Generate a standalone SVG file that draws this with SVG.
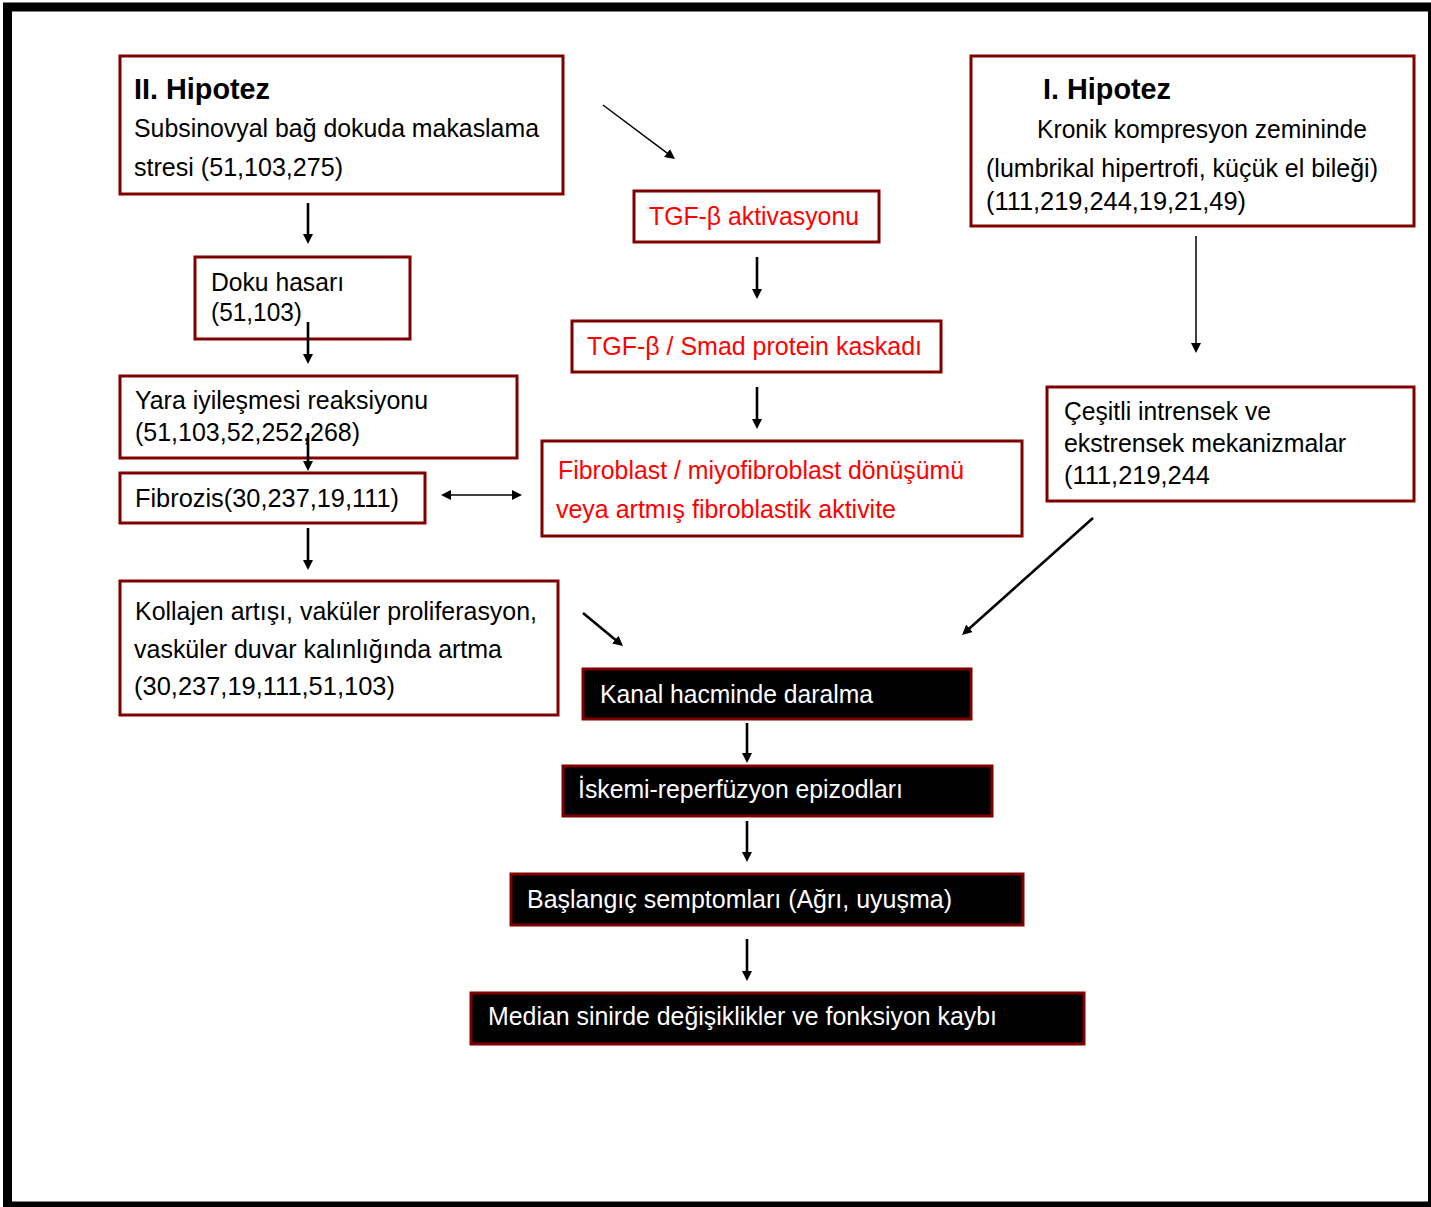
<svg xmlns="http://www.w3.org/2000/svg" width="1431" height="1207" viewBox="0 0 1431 1207">
<defs>
<style>
.box{fill:#ffffff;stroke:#800000;stroke-width:3}
.dbox{fill:#000000;stroke:#800000;stroke-width:3}
text{font-family:"Liberation Sans",Arial,sans-serif;font-size:26px;fill:#000000}
.b{font-weight:bold;font-size:30px}
.r{fill:#ff0000}
.w{fill:#ffffff}
.thick{stroke:#000;stroke-width:2.6;fill:none;marker-end:url(#ah)}
.thin{stroke:#000;stroke-width:1.5;fill:none;marker-end:url(#ah)}
</style>
<marker id="ah" markerUnits="userSpaceOnUse" markerWidth="10" markerHeight="10" refX="4" refY="5" orient="auto-start-reverse">
<path d="M0,0 L10,5 L0,10 Z" fill="#000"/>
</marker>
</defs>
<rect x="0" y="0" width="1431" height="1207" fill="#ffffff"/>
<rect x="7.5" y="7" width="1425" height="1199" fill="none" stroke="#000" stroke-width="9"/>

<g id="hipotez2">
<rect class="box" x="120" y="56" width="443" height="138"/>
<text class="b" x="134" y="99" textLength="136" lengthAdjust="spacingAndGlyphs">II. Hipotez</text>
<text x="134" y="137" textLength="405" lengthAdjust="spacingAndGlyphs">Subsinovyal bağ dokuda makaslama</text>
<text x="134" y="176" textLength="209" lengthAdjust="spacingAndGlyphs">stresi (51,103,275)</text>
</g>

<g id="doku">
<rect class="box" x="195" y="257" width="215" height="82"/>
<text x="211" y="291" textLength="133" lengthAdjust="spacingAndGlyphs">Doku hasarı</text>
<text x="211" y="321" textLength="91" lengthAdjust="spacingAndGlyphs">(51,103)</text>
</g>

<g id="yara">
<rect class="box" x="120" y="376" width="397" height="82"/>
<text x="135" y="409" textLength="293" lengthAdjust="spacingAndGlyphs">Yara iyileşmesi reaksiyonu</text>
<text x="135" y="441" textLength="225" lengthAdjust="spacingAndGlyphs">(51,103,52,252,268)</text>
</g>

<g id="fibrozis">
<rect class="box" x="120" y="473" width="305" height="50"/>
<text x="135" y="507" textLength="264" lengthAdjust="spacingAndGlyphs">Fibrozis(30,237,19,111)</text>
</g>

<g id="kollajen">
<rect class="box" x="120" y="581" width="438" height="134"/>
<text x="135" y="620" textLength="402" lengthAdjust="spacingAndGlyphs">Kollajen artışı, vaküler proliferasyon,</text>
<text x="134" y="658" textLength="368" lengthAdjust="spacingAndGlyphs">vasküler duvar kalınlığında artma</text>
<text x="134" y="695" textLength="261" lengthAdjust="spacingAndGlyphs">(30,237,19,111,51,103)</text>
</g>

<g id="hipotez1">
<rect class="box" x="971" y="56" width="443" height="170"/>
<text class="b" x="1043" y="99" textLength="128" lengthAdjust="spacingAndGlyphs">I. Hipotez</text>
<text x="1037" y="138" textLength="330" lengthAdjust="spacingAndGlyphs">Kronik kompresyon zemininde</text>
<text x="986" y="177" textLength="392" lengthAdjust="spacingAndGlyphs">(lumbrikal hipertrofi, küçük el bileği)</text>
<text x="986" y="210" textLength="260" lengthAdjust="spacingAndGlyphs">(111,219,244,19,21,49)</text>
</g>

<g id="cesitli">
<rect class="box" x="1047" y="387" width="367" height="114"/>
<text x="1064" y="420" textLength="207" lengthAdjust="spacingAndGlyphs">Çeşitli intrensek ve</text>
<text x="1064" y="452" textLength="282" lengthAdjust="spacingAndGlyphs">ekstrensek mekanizmalar</text>
<text x="1064" y="484" textLength="146" lengthAdjust="spacingAndGlyphs">(111,219,244</text>
</g>

<g id="tgf">
<rect class="box" x="634" y="191" width="245" height="51"/>
<text class="r" x="649" y="225" textLength="210" lengthAdjust="spacingAndGlyphs">TGF-β aktivasyonu</text>
</g>

<g id="smad">
<rect class="box" x="572" y="321" width="369" height="51"/>
<text class="r" x="587" y="355" textLength="335" lengthAdjust="spacingAndGlyphs">TGF-β / Smad protein kaskadı</text>
</g>

<g id="fibroblast">
<rect class="box" x="542" y="441" width="480" height="95"/>
<text class="r" x="558" y="479" textLength="406" lengthAdjust="spacingAndGlyphs">Fibroblast / miyofibroblast dönüşümü</text>
<text class="r" x="556" y="518" textLength="340" lengthAdjust="spacingAndGlyphs">veya artmış fibroblastik aktivite</text>
</g>

<g id="kanal">
<rect class="dbox" x="583" y="669" width="388" height="50"/>
<text class="w" x="600" y="703" textLength="273" lengthAdjust="spacingAndGlyphs">Kanal hacminde daralma</text>
</g>

<g id="iskemi">
<rect class="dbox" x="563" y="766" width="429" height="50"/>
<text class="w" x="578" y="798" textLength="325" lengthAdjust="spacingAndGlyphs">İskemi-reperfüzyon epizodları</text>
</g>

<g id="baslangic">
<rect class="dbox" x="511" y="874" width="512" height="51"/>
<text class="w" x="527" y="908" textLength="425" lengthAdjust="spacingAndGlyphs">Başlangıç semptomları (Ağrı, uyuşma)</text>
</g>

<g id="median">
<rect class="dbox" x="471" y="993" width="613" height="51"/>
<text class="w" x="488" y="1025" textLength="509" lengthAdjust="spacingAndGlyphs">Median sinirde değişiklikler ve fonksiyon kaybı</text>
</g>

<g id="connectors">
<line class="thick" x1="308" y1="203" x2="308" y2="238"/>
<line class="thick" x1="308" y1="322" x2="308" y2="358"/>
<line class="thick" x1="308" y1="433" x2="308" y2="465"/>
<line class="thick" x1="308" y1="528" x2="308" y2="564"/>
<line class="thin" x1="603" y1="105" x2="670.2" y2="155.4"/>
<line class="thick" x1="757" y1="257" x2="757" y2="293"/>
<line class="thick" x1="757" y1="387" x2="757" y2="423"/>
<line class="thin" x1="447" y1="495" x2="516" y2="495" style="marker-start:url(#ah)"/>
<line class="thick" x1="583" y1="613" x2="618.4" y2="642.2"/>
<line class="thin" x1="1196" y1="236" x2="1196" y2="347"/>
<line class="thick" x1="1093" y1="518" x2="966.5" y2="631"/>
<line class="thick" x1="747" y1="723" x2="747" y2="757"/>
<line class="thick" x1="747" y1="821" x2="747" y2="856"/>
<line class="thick" x1="747" y1="939" x2="747" y2="975"/>
</g>
</svg>
